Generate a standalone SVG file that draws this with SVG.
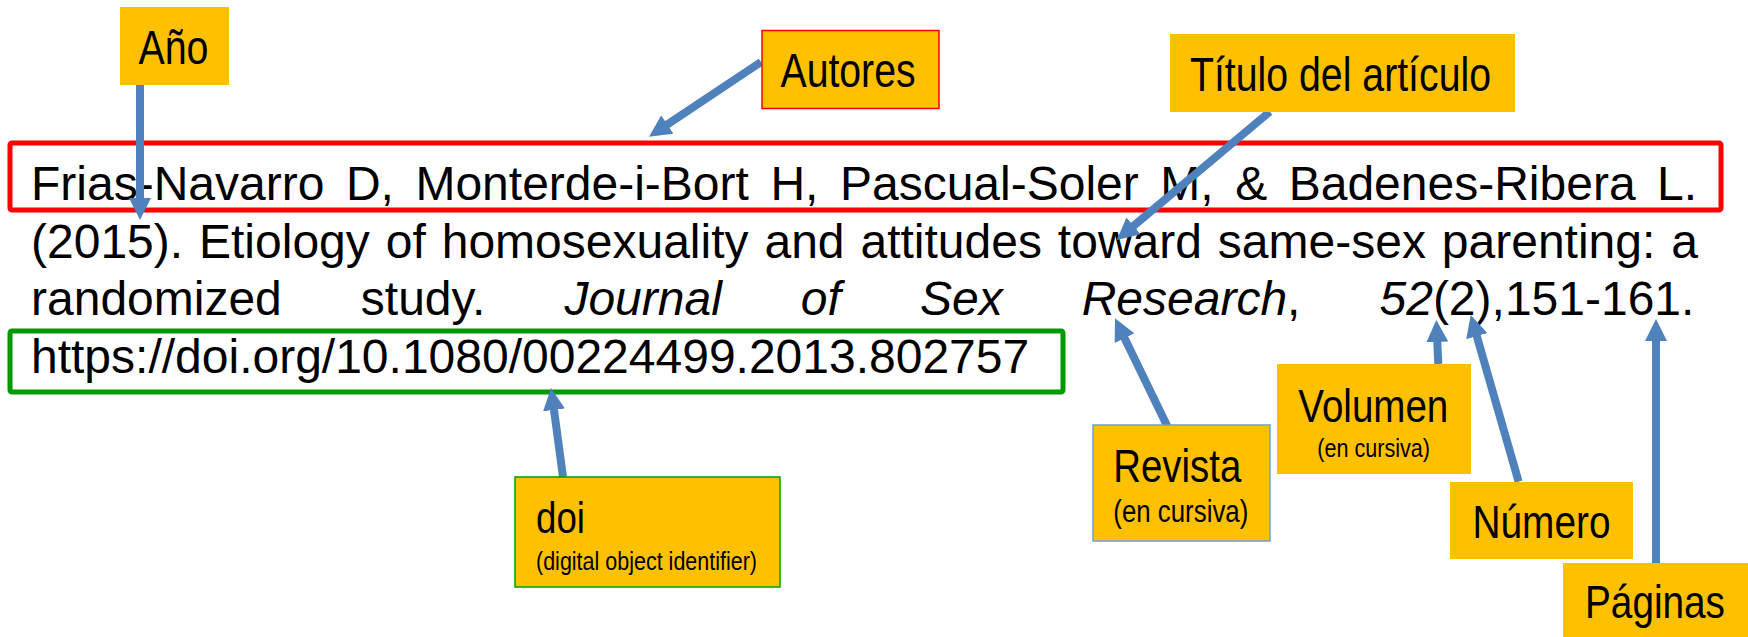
<svg xmlns="http://www.w3.org/2000/svg" width="1748" height="637" viewBox="0 0 1748 637">
<style>
.main{font-family:"Liberation Sans",Arial,sans-serif;font-size:48px;fill:#000}
.lbl{font-family:"Liberation Sans Narrow","Arial Narrow","Liberation Sans",sans-serif;fill:#000}
.box{fill:#FFC000}
.arr{fill:none;stroke:#4F81BD;stroke-width:8;marker-end:url(#ah)}
</style>
<defs>
<marker id="ah" viewBox="0 0 10 10" refX="3" refY="5" markerWidth="2.75" markerHeight="2.75" orient="auto" markerUnits="strokeWidth">
<path d="M0,0 L10,5 L0,10 z" fill="#4F81BD"/>
</marker>
</defs>
<rect width="1748" height="637" fill="#fff"/>

<g id="reference">
<rect x="10" y="143" width="1711" height="67" rx="2" fill="none" stroke="#FF0000" stroke-width="5"/>
<rect x="10" y="331" width="1053" height="61" rx="2" fill="none" stroke="#009900" stroke-width="5"/>
<text class="main" x="31" y="200" word-spacing="8.2">Frias-Navarro D, Monterde-i-Bort H, Pascual-Soler M, &amp; Badenes-Ribera L.</text>
<text class="main" x="31" y="257.5" word-spacing="2.6">(2015). Etiology of homosexuality and attitudes toward same-sex parenting: a</text>
<text class="main" x="31" y="315" word-spacing="65.7">randomized study. <tspan font-style="italic">Journal of Sex Research</tspan>, <tspan font-style="italic">52</tspan>(2),151-161.</text>
<text class="main" x="31" y="373">https://doi.org/10.1080/00224499.2013.802757</text>
</g>

<g id="connectors">
<path class="arr" d="M140,85 L140,204.6"/>
<path class="arr" d="M761,62 L661.8,128.1"/>
<path class="arr" d="M1269.8,111.7 L1128.5,230.1"/>
<path class="arr" d="M1168.3,428.3 L1121.7,332.2"/>
<path class="arr" d="M563,477 L553.1,403.3"/>
<path class="arr" d="M1438.3,364 L1437,335.4"/>
<path class="arr" d="M1518.6,481.7 L1475,329.8"/>
<path class="arr" d="M1656,563 L1656,334.4"/>
</g>

<g id="anio">
<rect class="box" x="120" y="7" width="109" height="78"/>
<text class="lbl" x="138.5" y="64" font-size="48" textLength="70" lengthAdjust="spacingAndGlyphs">Año</text>
</g>

<g id="autores">
<rect class="box" x="762" y="30.5" width="177" height="78" stroke="#FF0000" stroke-width="1.5"/>
<text class="lbl" x="780.5" y="86.7" font-size="48" textLength="135" lengthAdjust="spacingAndGlyphs">Autores</text>
</g>

<g id="titulo">
<rect class="box" x="1170" y="34" width="345" height="78"/>
<text class="lbl" x="1190" y="90.7" font-size="48" textLength="301" lengthAdjust="spacingAndGlyphs">Título del artículo</text>
</g>

<g id="doi">
<rect class="box" x="515" y="477" width="265" height="110" stroke="#00A000" stroke-width="1.5"/>
<text class="lbl" x="536" y="533.3" font-size="45" textLength="49" lengthAdjust="spacingAndGlyphs">doi</text>
<text class="lbl" x="536" y="570" font-size="26" textLength="221" lengthAdjust="spacingAndGlyphs">(digital object identifier)</text>
</g>

<g id="revista">
<rect class="box" x="1093" y="425" width="177" height="116" stroke="#6F9FD8" stroke-width="1.5"/>
<text class="lbl" x="1113.3" y="481.7" font-size="47" textLength="128" lengthAdjust="spacingAndGlyphs">Revista</text>
<text class="lbl" x="1113.3" y="521.7" font-size="31" textLength="135" lengthAdjust="spacingAndGlyphs">(en cursiva)</text>
</g>

<g id="volumen">
<rect class="box" x="1277" y="364" width="194" height="110"/>
<text class="lbl" x="1298.3" y="421.7" font-size="47" textLength="150" lengthAdjust="spacingAndGlyphs">Volumen</text>
<text class="lbl" x="1317.3" y="456.7" font-size="26" textLength="112.7" lengthAdjust="spacingAndGlyphs">(en cursiva)</text>
</g>

<g id="numero">
<rect class="box" x="1450" y="482" width="183" height="77"/>
<text class="lbl" x="1472.5" y="538.3" font-size="47" textLength="138" lengthAdjust="spacingAndGlyphs">Número</text>
</g>

<g id="paginas">
<rect class="box" x="1563" y="563" width="185" height="74"/>
<text class="lbl" x="1585" y="618" font-size="47" textLength="140" lengthAdjust="spacingAndGlyphs">Páginas</text>
</g>
</svg>
